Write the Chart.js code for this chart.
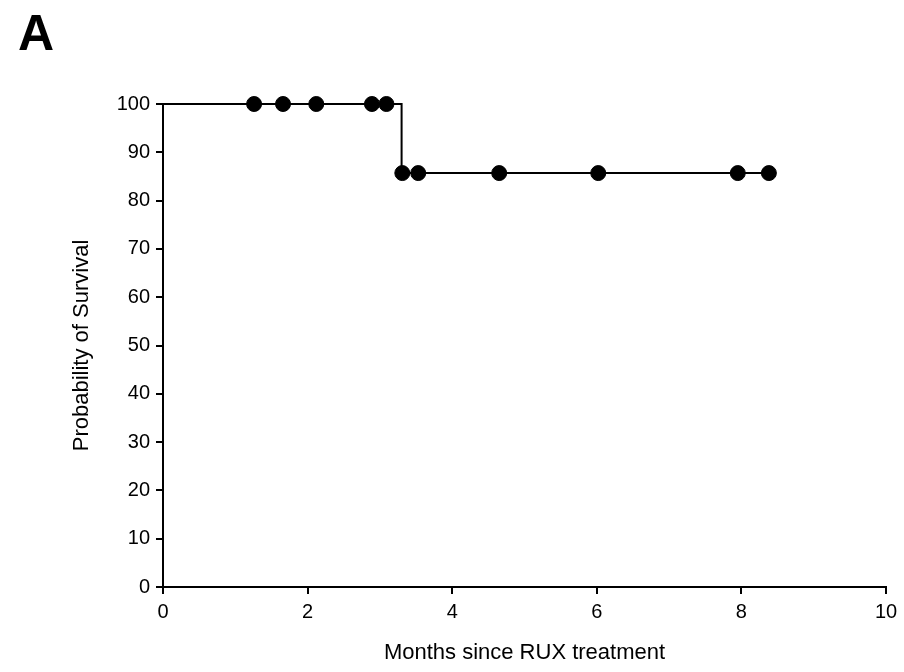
<!DOCTYPE html>
<html>
<head>
<meta charset="utf-8">
<script src="https://cdn.jsdelivr.net/npm/chart.js@4"></script>
<style>
  html, body { margin: 0; padding: 0; background: #fff; }
  #wrap { position: relative; width: 904px; height: 672px; }
  #panel {
    position: absolute; left: 18px; top: 4px; line-height: 1;
    font: bold 50px "Liberation Sans", Arial, sans-serif; color: #000;
  }
</style>
</head>
<body>
<div id="wrap">
  <canvas id="chart" width="904" height="672"></canvas>
  <div id="panel">A</div>
</div>
<script>
// survival curve vertices (months, %)
const curveMonths = [0, 3.30, 3.30, 8.38];
const curveSurvival = [100, 100, 85.7, 85.7];

// censored patients
const censorMonths = [1.26, 1.66, 2.12, 2.89, 3.09, 3.31, 3.53, 4.65, 6.02, 7.95, 8.38];
const censorSurvival = [100, 100, 100, 100, 100, 85.7, 85.7, 85.7, 85.7, 85.7, 85.7];

const xTicks = [0, 2, 4, 6, 8, 10];
const yTicks = [0, 10, 20, 30, 40, 50, 60, 70, 80, 90, 100];

const tickFont = { family: '"Liberation Sans", Arial, sans-serif', size: 20 };
const titleFont = { family: '"Liberation Sans", Arial, sans-serif', size: 22 };

const ctx = document.getElementById('chart').getContext('2d');

new Chart(ctx, {
  type: 'scatter',
  data: {
    datasets: [
      {
        type: 'line',
        data: curveMonths.map((m, i) => ({ x: m, y: curveSurvival[i] })),
        borderColor: '#000',
        borderWidth: 2,
        pointRadius: 0,
        fill: false,
        tension: 0
      },
      {
        data: censorMonths.map((m, i) => ({ x: m, y: censorSurvival[i] })),
        backgroundColor: '#000',
        borderColor: '#000',
        pointRadius: 7.5,
        pointHoverRadius: 7.5
      }
    ]
  },
  options: {
    responsive: false,
    animation: false,
    devicePixelRatio: 1,
    clip: false,
    layout: { padding: { top: 104, right: 18, left: 0, bottom: 0 } },
    plugins: { legend: { display: false }, tooltip: { enabled: false } },
    scales: {
      x: {
        type: 'linear',
        min: 0, max: 10,
        afterBuildTicks: s => { s.ticks = xTicks.map(v => ({ value: v })); },
        afterFit: s => { s.height = 85; },
        grid: { drawOnChartArea: false, drawTicks: true, tickLength: 7, color: '#000', lineWidth: 2 },
        border: { color: '#000', width: 2 },
        ticks: { color: '#000', font: tickFont, padding: 6, maxRotation: 0 },
        title: {
          display: true, text: 'Months since RUX treatment',
          color: '#000', font: titleFont, padding: { top: 0, bottom: 6 }
        }
      },
      y: {
        type: 'linear',
        min: 0, max: 100,
        afterBuildTicks: s => { s.ticks = yTicks.map(v => ({ value: v })); },
        afterFit: s => { s.width = 163; },
        grid: { drawOnChartArea: false, drawTicks: true, tickLength: 7, color: '#000', lineWidth: 2 },
        border: { color: '#000', width: 2 },
        ticks: { color: '#000', font: tickFont, padding: 6 },
        title: {
          display: true, text: 'Probability of Survival',
          color: '#000', font: titleFont, padding: { top: 69, bottom: 0 }
        }
      }
    }
  }
});
</script>
</body>
</html>
